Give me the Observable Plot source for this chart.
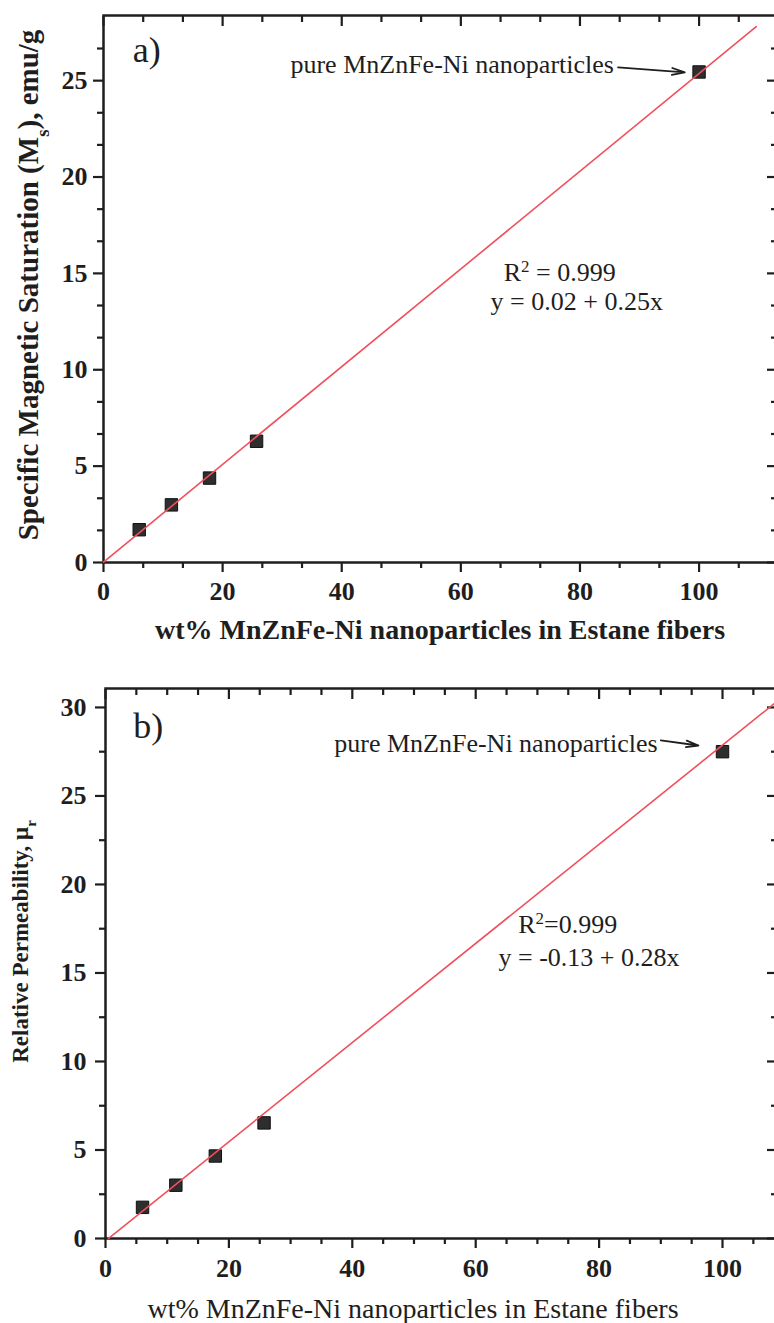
<!DOCTYPE html>
<html>
<head>
<meta charset="utf-8">
<script src="https://cdn.jsdelivr.net/npm/d3@7"></script>
<script src="https://cdn.jsdelivr.net/npm/@observablehq/plot@0.6"></script>
<style>
  html, body { margin: 0; padding: 0; background: #fff; overflow: hidden; }
  #root { width: 778px; height: 1323px; overflow: hidden; }
  svg { display: block; overflow: visible; max-width: none !important; }
</style>
</head>
<body>
<div id="root"></div>
<script>
// ---------------- data ----------------
const wtPercent = [6.0, 11.4, 17.8, 25.7, 100];           // wt% MnZnFe-Ni in Estane fibers
const satMs     = [1.70, 2.99, 4.38, 6.29, 25.45];          // panel a: Ms, emu/g
const relMu     = [1.76, 3.01, 4.66, 6.53, 27.5];           // panel b: relative permeability

// linear fits as drawn (intercept, slope) and x-extent of the drawn fit line
const fitA = [0.02, 0.2535];
const fitB = [-0.13, 0.28];
const fitXA = [0, 109.6];
const fitXB = [0.46, 108.75];

// axis domains and ticks
const xDomainA = [0, 113];
const yDomainA = [0, 28.38];
const xDomainB = [0, 108.75];
const yDomainB = [0, 31.07];
const xMajor   = [0, 20, 40, 60, 80, 100];
const xMinorA  = [6.667, 13.333, 26.667, 33.333, 46.667, 53.333, 66.667, 73.333, 86.667, 93.333, 106.667];
const xMinorB  = [5, 10, 15, 25, 30, 35, 45, 50, 55, 65, 70, 75, 85, 90, 95, 105];
const yMajorA  = [0, 5, 10, 15, 20, 25];
const yMinorA  = [1.667, 3.333, 6.667, 8.333, 11.667, 13.333, 16.667, 18.333, 21.667, 23.333, 26.667];
const yMajorB  = [0, 5, 10, 15, 20, 25, 30];
const yMinorB  = [2.5, 7.5, 12.5, 17.5, 22.5, 27.5];

// texts
const xTitle  = "wt% MnZnFe-Ni nanoparticles in Estane fibers";
const yTitleA = "Specific Magnetic Saturation (M_{s}), emu/g";
const yTitleB = "Relative Permeability, μ_{r}";
const pureLabel = "pure MnZnFe-Ni nanoparticles";

// annotation anchors (data units)
const labelsA = [
  {x: 4.9,  y: 25.95, text: "a)", size: 36, anchor: "start"},
  {x: 85.7, y: 25.38, text: pureLabel, size: 26, anchor: "end"},
  {x: 67.2, y: 14.63, text: "R^{2} = 0.999", size: 26, anchor: "start"},
  {x: 65.0, y: 13.08, text: "y = 0.02 + 0.25x", size: 26, anchor: "start"}
];
const labelsB = [
  {x: 4.5,  y: 28.25, text: "b)", size: 36, anchor: "start"},
  {x: 89.5, y: 27.5,  text: pureLabel, size: 26, anchor: "end"},
  {x: 66.9, y: 17.23, text: "R^{2}=0.999", size: 26, anchor: "start"},
  {x: 63.7, y: 15.42, text: "y = -0.13 + 0.28x", size: 26, anchor: "start"}
];
const arrowA = [{x1: 86.4, y1: 25.69, x2: 97.6, y2: 25.43}];
const arrowB = [{x1: 90.0, y1: 28.14, x2: 96.1, y2: 27.85}];

// ---------------- helpers ----------------
const FONT = "'Liberation Serif', 'Times New Roman', serif";
const INK = "#1e1e1e";
const RED = "#f0505c";

function pts(xs, ys) { return xs.map((x, i) => ({x, y: ys[i]})); }
function fitLine(fit, xs) { return xs.map(x => ({x, y: fit[0] + fit[1] * x})); }

function richify(svg) {
  const ns = "http://www.w3.org/2000/svg";
  svg.querySelectorAll("text").forEach(t => {
    const s = t.textContent;
    if (!/[_^]\{/.test(s) || t.children.length) return;
    const parts = s.split(/([_^]\{[^}]*\})/);
    t.textContent = "";
    for (const p of parts) {
      if (!p) continue;
      const m = p.match(/^([_^])\{(.*)\}$/);
      const ts = document.createElementNS(ns, "tspan");
      if (m) {
        ts.textContent = m[2];
        ts.setAttribute("font-size", "65%");
        ts.setAttribute("baseline-shift", m[1] === "_" ? "sub" : "super");
      } else ts.textContent = p;
      t.appendChild(ts);
    }
  });
}

function panel(cfg) {
  const tickStyle = {strokeWidth: 2.2, stroke: INK, label: null};
  const blank = () => "";
  const svg = Plot.plot({
    width: 778, height: cfg.height,
    marginLeft: cfg.ml, marginRight: 2, marginTop: cfg.mt, marginBottom: cfg.mb,
    x: {domain: cfg.xDomain},
    y: {domain: cfg.yDomain},
    style: {fontFamily: FONT, background: "white", color: INK, overflow: "visible"},
    marks: [
      // bottom axis
      Plot.axisX(xMajor, {...tickStyle, anchor: "bottom", tickSize: 10, tickPadding: cfg.xPad,
        fontSize: cfg.tickFont, fontWeight: "bold"}),
      Plot.axisX(cfg.xMinor, {...tickStyle, anchor: "bottom", tickSize: 6, tickFormat: blank}),
      // top axis (inward)
      Plot.axisX(xMajor, {...tickStyle, anchor: "top", tickSize: -10, tickFormat: blank}),
      Plot.axisX(cfg.xMinor, {...tickStyle, anchor: "top", tickSize: -6, tickFormat: blank}),
      // left axis
      Plot.axisY(cfg.yMajor, {...tickStyle, anchor: "left", tickSize: 10, tickPadding: cfg.yPad,
        fontSize: cfg.tickFont, fontWeight: "bold"}),
      Plot.axisY(cfg.yMinor, {...tickStyle, anchor: "left", tickSize: 6, tickFormat: blank}),
      // right axis (inward)
      Plot.axisY(cfg.yMajor, {...tickStyle, anchor: "right", tickSize: -10, tickFormat: blank}),
      Plot.axisY(cfg.yMinor, {...tickStyle, anchor: "right", tickSize: -6, tickFormat: blank}),
      Plot.frame({stroke: INK, strokeWidth: 2.5}),
      // data
      Plot.dot(pts(wtPercent, cfg.values), {x: "x", y: "y", symbol: "square", r: 7,
        fill: "#2e2e2e", stroke: "#111", strokeWidth: 1}),
      Plot.line(fitLine(cfg.fit, cfg.fitX), {x: "x", y: "y", stroke: RED, strokeWidth: 1.6}),
      // annotations
      Plot.text(cfg.labels, {x: "x", y: "y", text: "text", fontSize: d => d.size,
        textAnchor: "start", lineAnchor: "bottom", fill: INK, filter: d => d.anchor === "start"}),
      Plot.text(cfg.labels, {x: "x", y: "y", text: "text", fontSize: 26,
        textAnchor: "end", lineAnchor: "bottom", fill: INK, filter: d => d.anchor === "end"}),
      Plot.arrow(cfg.arrow, {x1: "x1", y1: "y1", x2: "x2", y2: "y2", stroke: INK,
        strokeWidth: 1.8, headLength: 11, headAngle: 30}),
      // axis titles
      Plot.text([xTitle], {text: d => d, frameAnchor: "bottom", dx: cfg.xtDx, dy: cfg.xtDy,
        textAnchor: "middle", lineAnchor: "bottom", fontSize: 28, fontWeight: cfg.xtWeight, fill: INK}),
      Plot.text([cfg.yTitle], {text: d => d, frameAnchor: "left", rotate: -90, dx: cfg.ytDx, dy: cfg.ytDy,
        textAnchor: "middle", lineAnchor: "middle", fontSize: cfg.ytSize, fontWeight: "bold", fill: INK})
    ]
  });
  richify(svg);
  return svg;
}

const root = document.getElementById("root");
root.appendChild(panel({
  height: 665, ml: 103, mt: 15, mb: 103,
  xDomain: xDomainA, yDomain: yDomainA, xMinor: xMinorA, yMajor: yMajorA, yMinor: yMinorA,
  values: satMs, fit: fitA, fitX: fitXA, labels: labelsA, arrow: arrowA,
  tickFont: 26, xPad: 9, yPad: 6,
  yTitle: yTitleA, ytDx: -75, ytDy: -4, ytSize: 29,
  xtDx: 0, xtDy: 76, xtWeight: "bold"
}));
root.appendChild(panel({
  height: 658, ml: 105, mt: 23, mb: 85,
  xDomain: xDomainB, yDomain: yDomainB, xMinor: xMinorB, yMajor: yMajorB, yMinor: yMinorB,
  values: relMu, fit: fitB, fitX: fitXB, labels: labelsB, arrow: arrowB,
  tickFont: 26, xPad: 10, yPad: 9,
  yTitle: yTitleB, ytDx: -85, ytDy: -22, ytSize: 23,
  xtDx: -28, xtDy: 79, xtWeight: "normal"
}));
</script>
</body>
</html>
